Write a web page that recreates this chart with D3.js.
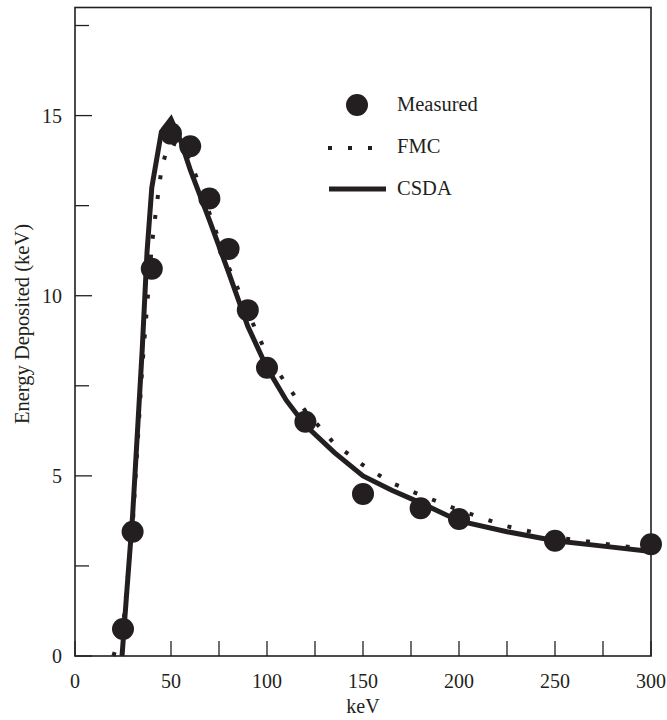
<!DOCTYPE html>
<html>
<head>
<meta charset="utf-8">
<script src="https://cdn.jsdelivr.net/npm/d3@7"></script>
<style>
  html, body { margin: 0; padding: 0; background: #fff; }
  svg { display: block; }
  text { font-family: "Liberation Serif", "Times New Roman", serif; fill: #231f20; }
</style>
</head>
<body>
<svg id="chart" width="667" height="720"></svg>
<script>
// Measured energy deposited (keV) vs incident energy (keV)
const measuredX = [25, 30, 40, 50, 60, 70, 80, 90, 100, 120, 150, 180, 200, 250, 300];
const measuredY = [0.75, 3.45, 10.75, 14.5, 14.15, 12.7, 11.3, 9.6, 8.0, 6.5, 4.5, 4.1, 3.8, 3.2, 3.1];

// Full Monte Carlo calculation
const fmcX = [20, 25, 30, 35, 38.5, 40, 42.5, 45, 47.5, 50, 55, 60, 65, 70, 80, 90, 100, 110, 120, 135, 150, 165, 180, 200, 225, 250, 275, 300];
const fmcY = [0, 0.8, 3.6, 8.0, 10.35, 11.4, 12.5, 13.5, 14.0, 14.25, 14.15, 13.75, 13.05, 12.3, 10.8, 9.55, 8.35, 7.55, 6.8, 5.9, 5.3, 4.8, 4.47, 4.05, 3.6, 3.3, 3.12, 2.95];

// Continuous slowing down approximation
const csdaX = [24.5, 27, 30, 35, 37.5, 40, 45, 50, 55, 60, 70, 80, 90, 100, 110, 120, 135, 150, 165, 180, 200, 225, 250, 275, 300];
const csdaY = [0, 1.8, 3.9, 8.5, 11.2, 13.0, 14.55, 14.9, 14.3, 13.5, 12.1, 10.65, 9.15, 8.0, 7.1, 6.4, 5.65, 5.0, 4.6, 4.25, 3.75, 3.45, 3.2, 3.05, 2.9];

const xTicks = [0, 25, 50, 75, 100, 125, 150, 175, 200, 225, 250, 275, 300];
const xTickLabels = [0, 50, 100, 150, 200, 250, 300];
const yTicks = [0, 2.5, 5, 7.5, 10, 12.5, 15, 17.5];
const yTickLabels = [0, 5, 10, 15];

const legendLabels = ["Measured", "FMC", "CSDA"];
const xTitle = "keV";
const yTitle = "Energy Deposited (keV)";

const ink = "#231f20";
const svg = d3.select("#chart");
const plotL = 75, plotR = 651, plotT = 7.5, plotB = 656;

const x = d3.scaleLinear().domain([0, 300]).range([plotL, plotR]);
const y = d3.scaleLinear().domain([0, 18]).range([plotB, plotT]);

const toPts = (xs, ys) => xs.map((v, i) => [v, ys[i]]);
const line = d3.line().x(d => x(d[0])).y(d => y(d[1])).curve(d3.curveLinear);

// frame
svg.append("rect")
  .attr("x", plotL).attr("y", plotT)
  .attr("width", plotR - plotL).attr("height", plotB - plotT)
  .attr("fill", "none").attr("stroke", ink).attr("stroke-width", 1.6);

// inward ticks
svg.append("g").selectAll("line").data(xTicks).join("line")
  .attr("x1", d => x(d)).attr("x2", d => x(d))
  .attr("y1", plotB).attr("y2", plotB - 15)
  .attr("stroke", ink).attr("stroke-width", 1.3);
svg.append("g").selectAll("line").data(yTicks).join("line")
  .attr("x1", plotL).attr("x2", d => plotL + (d % 5 === 0 ? 17 : 14))
  .attr("y1", d => y(d)).attr("y2", d => y(d))
  .attr("stroke", ink).attr("stroke-width", 1.3);

// tick labels
svg.append("g").selectAll("text").data(xTickLabels).join("text")
  .attr("x", d => x(d)).attr("y", plotB + 32)
  .attr("text-anchor", "middle").attr("font-size", 20)
  .text(d => d);
svg.append("g").selectAll("text").data(yTickLabels).join("text")
  .attr("x", plotL - 13).attr("y", d => y(d) + 7)
  .attr("text-anchor", "end").attr("font-size", 20)
  .text(d => d);

// axis titles
svg.append("text")
  .attr("x", (plotL + plotR) / 2).attr("y", 713)
  .attr("text-anchor", "middle").attr("font-size", 20)
  .text(xTitle);
svg.append("text")
  .attr("transform", `translate(29,${(438 + 210) / 2}) rotate(-90)`)
  .attr("text-anchor", "middle").attr("font-size", 20.5)
  .text(yTitle);

// curves
svg.append("path")
  .datum(toPts(fmcX, fmcY))
  .attr("d", line)
  .attr("fill", "none").attr("stroke", ink)
  .attr("stroke-width", 4).attr("stroke-dasharray", "4,16");
svg.append("path")
  .datum(toPts(csdaX, csdaY))
  .attr("d", line)
  .attr("fill", "none").attr("stroke", ink)
  .attr("stroke-width", 5).attr("stroke-linejoin", "miter");

// measured points
svg.append("g").selectAll("circle").data(toPts(measuredX, measuredY)).join("circle")
  .attr("cx", d => x(d[0])).attr("cy", d => y(d[1])).attr("r", 11)
  .attr("fill", ink);

// legend
const lg = svg.append("g");
lg.append("circle").attr("cx", 357).attr("cy", 105).attr("r", 11).attr("fill", ink);
lg.append("line").attr("x1", 328).attr("x2", 372).attr("y1", 148).attr("y2", 148)
  .attr("stroke", ink).attr("stroke-width", 4).attr("stroke-dasharray", "4,16");
lg.append("line").attr("x1", 329).attr("x2", 386).attr("y1", 189).attr("y2", 189)
  .attr("stroke", ink).attr("stroke-width", 5);
lg.selectAll("text").data(legendLabels).join("text")
  .attr("x", 397).attr("y", (d, i) => [111, 153, 195][i])
  .attr("font-size", 20.5)
  .text(d => d);
</script>
</body>
</html>
